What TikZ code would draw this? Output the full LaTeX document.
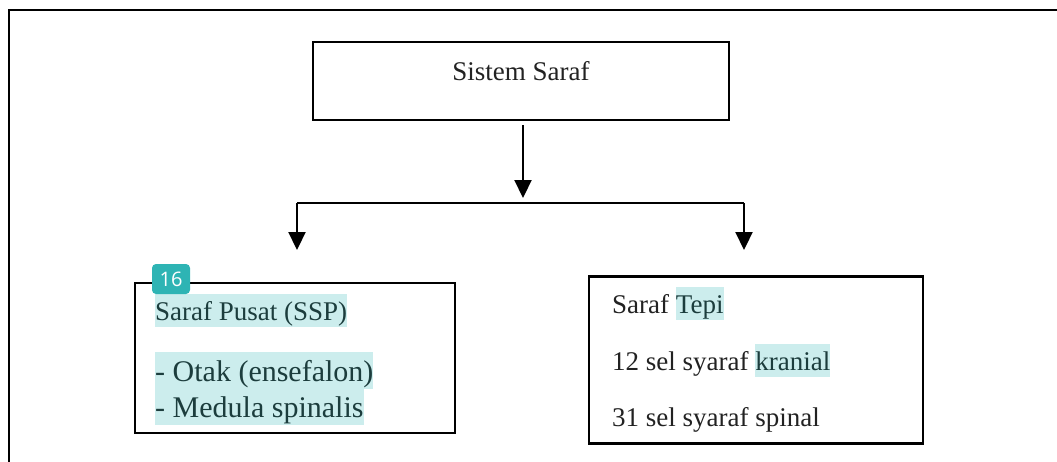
\documentclass[tikz,border=0pt]{standalone}
\usepackage{fontspec}
\setmainfont{Liberation Serif}
\newfontfamily\badgefont{Open Sans}
\usetikzlibrary{arrows.meta}
\definecolor{hl}{HTML}{CCEDED}
\definecolor{hltext}{HTML}{1C3D3D}
\definecolor{badge}{HTML}{2EB4B4}
\definecolor{ink}{HTML}{222222}
\newcommand\hlword[1]{{\setlength\fboxsep{0pt}\colorbox{hl}{\color{hltext}\vrule height .97em depth .26em width 0pt #1}}}

\begin{document}
\begin{tikzpicture}[x=1pt,y=-1pt,
    box/.style 2 args={draw,line width=2.7pt,inner sep=0,minimum width=#1,minimum height=#2},
    txt/.style={anchor=base west,inner sep=0,text=ink,font=\fontsize{27}{33}\selectfont},
    big/.style={txt,font=\fontsize{30}{36}\selectfont},
    arr/.style={-{Triangle[width=17pt,length=18pt]},line width=2.2pt}]
  \clip (0,0) rectangle (1057,461);
  \draw[line width=2.2pt] (9,480) -- (9,10) -- (1080,10);
  % boxes
  \node[box={416pt}{78pt}] (sistem) at (521,81) {};
  \node[box={320pt}{150pt}] (pusat) at (295,358) {};
  \node[box={334pt}{167pt}] (tepi) at (756,360) {};
  \node[txt,anchor=base] (sistemtxt) at (521,80) {Sistem Saraf};
  \node[txt] (pusat1) at (155,320) {\hlword{Saraf Pusat (SSP)}};
  \node[big] (pusat2) at (155,381) {\hlword{- Otak (ensefalon)}};
  \node[big] (pusat3) at (155,417) {\hlword{- Medula spinalis}};
  \node[txt] (tepi1) at (612,313) {Saraf \hlword{Tepi}};
  \node[txt] (tepi2) at (612,370) {12 sel syaraf \hlword{kranial}};
  \node[txt] (tepi3) at (612,426) {31 sel syaraf spinal};
  \node[fill=badge,rounded corners=4pt,minimum width=38pt,minimum height=30pt,inner sep=0,
    text=white,font=\badgefont\fontsize{20}{20}\selectfont] (num) at (171,279) {16};
  % connectors
  \coordinate (split) at (523,203);
  \coordinate (lend) at (297,203);
  \coordinate (rend) at (744,203);
  \coordinate (ltip) at (297,250);
  \coordinate (rtip) at (744,250);
  \draw[arr,shorten <=4pt,shorten >=5pt] (sistem.south -| split) -- (split);
  \draw[line width=1.7pt] (lend) -- (rend);
  \draw[arr] (lend) -- (ltip);
  \draw[arr] (rend) -- (rtip);
\end{tikzpicture}
\end{document}
